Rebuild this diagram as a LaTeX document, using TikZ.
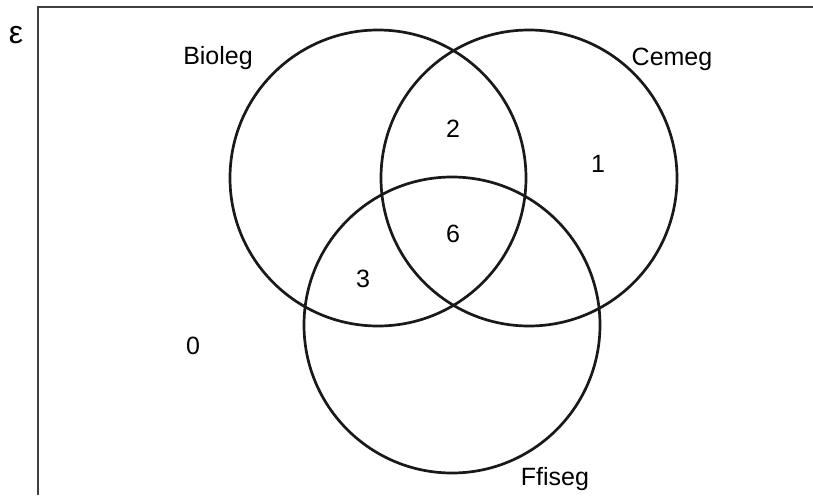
\documentclass[tikz,border=0pt]{standalone}
\usepackage{fontspec}
\setmainfont{Liberation Sans}
\begin{document}
\begin{tikzpicture}[x=1pt,y=-1pt,
  setcircle/.style={draw=black!90,line width=2.7pt},
  lbl/.style={font=\fontsize{25}{29}\selectfont,inner sep=0pt}]
\useasboundingbox (0,0) rectangle (813,495);
\draw[black!75,line width=1.8pt] (38,495) -- (38,7) -- (813,7);
\node[lbl,font=\fontsize{32}{36}\selectfont] (eps) at (16,35) {ε};
\draw[setcircle] (378,178) circle[radius=148];
\draw[setcircle] (529,178) circle[radius=148];
\draw[setcircle] (452,325) circle[radius=148];
\node[lbl,anchor=base] (bio) at (218,64) {Bioleg};
\node[lbl,anchor=base] (cem) at (672,65) {Cemeg};
\node[lbl,anchor=base] (ffi) at (555,485) {Ffiseg};
\node[lbl] (n2) at (453,129) {2};
\node[lbl] (n1) at (598,164) {1};
\node[lbl] (n6) at (453,234) {6};
\node[lbl] (n3) at (363,279) {3};
\node[lbl] (n0) at (193,346) {0};
\end{tikzpicture}
\end{document}
